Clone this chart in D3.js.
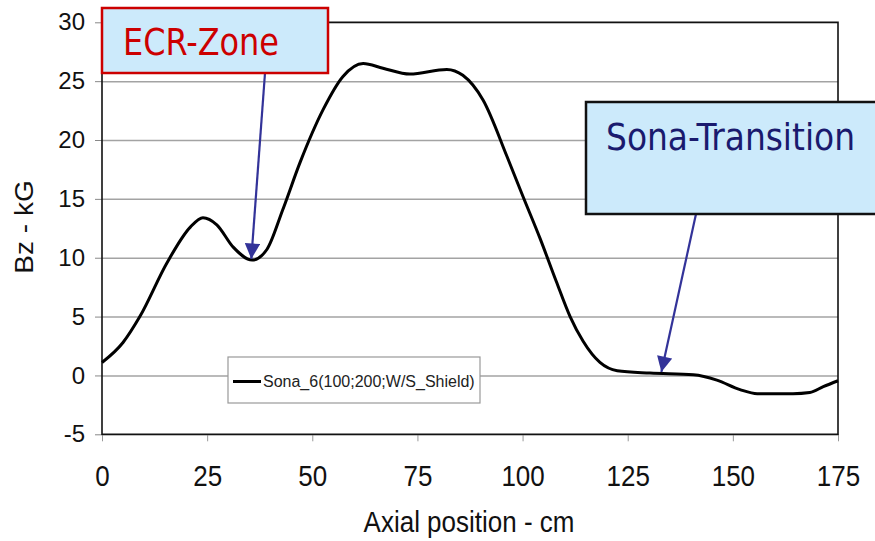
<!DOCTYPE html>
<html>
<head>
<meta charset="utf-8">
<script src="https://cdn.jsdelivr.net/npm/d3@7"></script>
<style>
  body { margin: 0; background: #fff; }
  svg { display: block; font-family: "Liberation Sans", Arial, sans-serif; }
</style>
</head>
<body>
<div id="chart"></div>
<script>
// values
var positions = [0, 5, 9, 15.5, 21, 24, 27.3, 31.2, 35.7, 39.2, 43, 47.1, 52.6, 57.3, 62.1, 66.8, 73.2, 82, 85.8, 90.6, 96.3, 100.1, 104.2, 108, 111.3, 114.4, 118.4, 122.5, 130.3, 140.6, 146.2, 151.7, 155.8, 164.3, 168.3, 171.5, 175];
var bz = [1.1, 2.8, 5.0, 9.6, 12.6, 13.4, 12.8, 10.9, 9.8, 10.7, 14.1, 18.1, 22.6, 25.4, 26.5, 26.1, 25.6, 26.0, 25.5, 23.4, 18.6, 15.2, 11.6, 8.0, 5.0, 2.9, 1.1, 0.4, 0.2, 0.05, -0.4, -1.2, -1.55, -1.55, -1.45, -0.95, -0.45];
var xTicks = [0, 25, 50, 75, 100, 125, 150, 175];
var yTicks = [-5, 0, 5, 10, 15, 20, 25, 30];
var seriesName = "Sona_6(100;200;W/S_Shield)";
var ecrLabel = "ECR-Zone", ecrAt = [35.5, 9.9];
var sonaLabel = "Sona-Transition", sonaAt = [133, 0.3];

var W = 875, H = 541;
var margin = {top: 22.3, right: 37, bottom: 106.7, left: 102};
var width = W - margin.left - margin.right,
    height = H - margin.top - margin.bottom;

var svg = d3.select("#chart").append("svg").attr("width", W).attr("height", H);
var defs = svg.append("defs");
defs.append("marker").attr("id", "head").attr("viewBox", "0 0 10 10")
  .attr("refX", 10).attr("refY", 5).attr("markerWidth", 7.5).attr("markerHeight", 7)
  .attr("markerUnits", "strokeWidth").attr("orient", "auto")
  .append("path").attr("d", "M0,0L10,5L0,10z").attr("fill", "#333399");

var g = svg.append("g").attr("transform", "translate(" + margin.left + "," + margin.top + ")");

var x = d3.scaleLinear().domain([0, 175]).range([0, width]);
var y = d3.scaleLinear().domain([-5, 30]).range([height, 0]);
var plain = function(d){ return String(d); };

// gridlines
g.append("g").attr("class", "grid")
  .call(d3.axisLeft(y).tickValues(yTicks).tickSize(-width).tickFormat(""))
  .call(function(s){ s.select(".domain").remove(); })
  .selectAll("line").attr("stroke", "#a3a3a3").attr("stroke-width", 1.5);

// y axis
var ya = g.append("g")
  .call(d3.axisLeft(y).tickValues(yTicks).tickFormat(plain).tickSize(7).tickSizeOuter(0).tickPadding(10));
ya.select(".domain").remove();
ya.selectAll("line").attr("stroke", "#888");
ya.selectAll("text").attr("font-size", 24).attr("fill", "#111")
  .attr("font-family", "Liberation Sans, Arial, sans-serif");

// x axis
var xa = g.append("g").attr("transform", "translate(0," + height + ")")
  .call(d3.axisBottom(x).tickValues(xTicks).tickFormat(plain).tickSize(7).tickSizeOuter(0).tickPadding(0));
xa.select(".domain").remove();
xa.selectAll("line").attr("stroke", "#999");
xa.selectAll("text").attr("font-size", 26).attr("fill", "#111")
  .attr("font-family", "Liberation Sans, Arial, sans-serif")
  .attr("dy", null).attr("y", 52 / 1.14).attr("transform", "scale(1,1.14)");

// plot border
g.append("rect").attr("width", width).attr("height", height)
  .attr("fill", "none").attr("stroke", "#111").attr("stroke-width", 1.6);

// curve
var line = d3.line().x(function(d, i){ return x(positions[i]); })
  .y(function(d){ return y(d); }).curve(d3.curveMonotoneX);
g.append("path").datum(bz).attr("d", line)
  .attr("fill", "none").attr("stroke", "#000").attr("stroke-width", 3);

// legend
var lg = svg.append("g").attr("transform", "translate(228,357)");
lg.append("rect").attr("width", 252).attr("height", 46)
  .attr("fill", "#fff").attr("stroke", "#999").attr("stroke-width", 1.2);
lg.append("line").attr("x1", 5).attr("x2", 33).attr("y1", 24.5).attr("y2", 24.5)
  .attr("stroke", "#000").attr("stroke-width", 3);
lg.append("text").attr("x", 35).attr("y", 30).attr("font-size", 16).attr("fill", "#222")
  .text(seriesName);

// axis titles
svg.append("text").attr("transform", "translate(469,532) scale(1,1.12)")
  .attr("text-anchor", "middle").attr("font-size", 26).attr("fill", "#111")
  .text("Axial position - cm");
svg.append("text").attr("transform", "translate(33,227) rotate(-90) scale(1.12,1)")
  .attr("text-anchor", "middle").attr("font-size", 25).attr("fill", "#111")
  .text("Bz - kG");

// annotations
var afont = "Tahoma, 'DejaVu Sans Condensed', 'DejaVu Sans', sans-serif";
svg.append("line").attr("x1", 265).attr("y1", 73)
  .attr("x2", margin.left + x(ecrAt[0])).attr("y2", margin.top + y(ecrAt[1]))
  .attr("stroke", "#333399").attr("stroke-width", 2.2).attr("marker-end", "url(#head)");
svg.append("rect").attr("x", 102).attr("y", 8).attr("width", 226).attr("height", 65)
  .attr("fill", "#cceafb").attr("stroke", "#cc0000").attr("stroke-width", 2.5);
svg.append("text").attr("x", 123).attr("y", 55).attr("font-family", afont)
  .attr("font-size", 38).attr("fill", "#cc0000")
  .attr("textLength", 156).attr("lengthAdjust", "spacingAndGlyphs").text(ecrLabel);

svg.append("line").attr("x1", 696).attr("y1", 214)
  .attr("x2", margin.left + x(sonaAt[0])).attr("y2", margin.top + y(sonaAt[1]))
  .attr("stroke", "#333399").attr("stroke-width", 2.2).attr("marker-end", "url(#head)");
svg.append("rect").attr("x", 586).attr("y", 102).attr("width", 300).attr("height", 112)
  .attr("fill", "#cceafb").attr("stroke", "#111").attr("stroke-width", 2.5);
svg.append("text").attr("x", 606).attr("y", 150).attr("font-family", afont)
  .attr("font-size", 38).attr("fill", "#1a1a6e")
  .attr("textLength", 249).attr("lengthAdjust", "spacingAndGlyphs").text(sonaLabel);
</script>
</body>
</html>
